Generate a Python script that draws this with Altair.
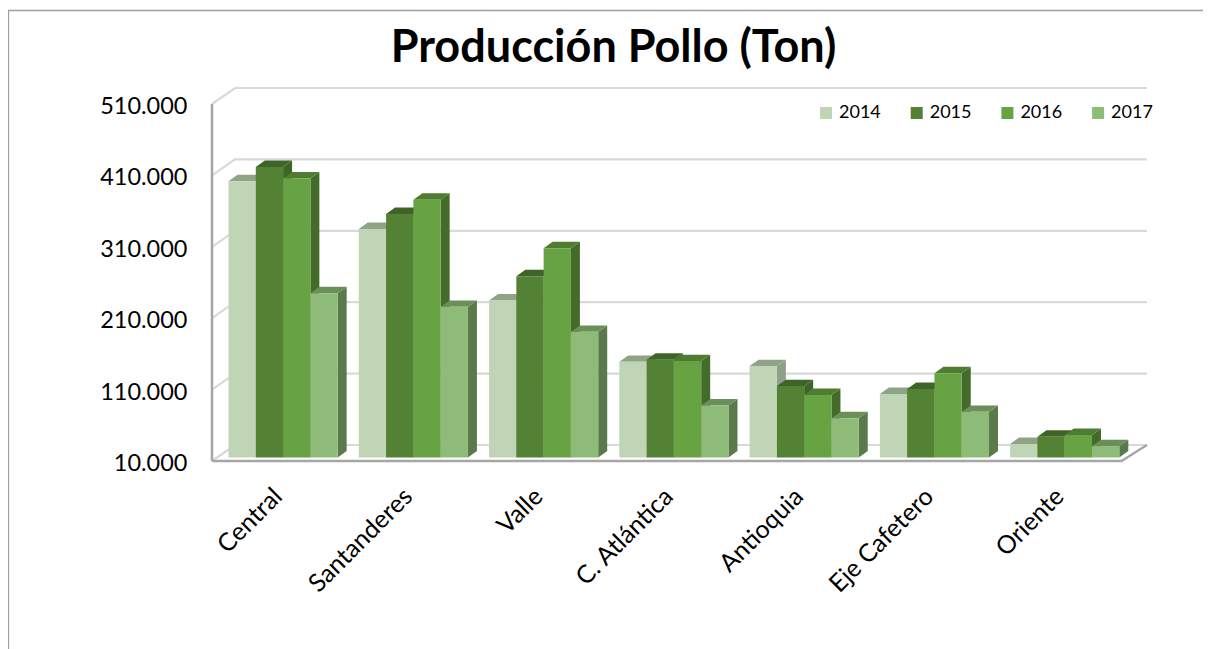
import json
import altair as alt
import pandas as pd

categories = ["Central", "Santanderes", "Valle", "C. Atlántica", "Antioquia", "Eje Cafetero", "Oriente"]
years = ["2014", "2015", "2016", "2017"]
v2014 = [397000, 330000, 230000, 144000, 138000, 99000, 29000]
v2015 = [417000, 351000, 264000, 147000, 110000, 106000, 39000]
v2016 = [401000, 371000, 303000, 145000, 97500, 128000, 41500]
v2017 = [240000, 221000, 186000, 83000, 65000, 74000, 26000]
series = [v2014, v2015, v2016, v2017]
y_ticks = [10000, 110000, 210000, 310000, 410000, 510000]

front_colors = ["#c0d5b5", "#548235", "#68a343", "#8fbb78"]
top_colors = ["#8fa386", "#3f6428", "#4e7d32", "#6b8f58"]
side_colors = ["#909f88", "#3f6428", "#436b29", "#5a7a4b"]

W, H = 1195, 641
X_DOMAIN = [-1.6927, -1.6927 + 1195 / 130.27]
Y_DOMAIN = [-258207, 639552]
BAR_W = 0.2095
DX = 0.069
DY = 9000
BACK_X, FRONT_X, RIGHT_FRONT, RIGHT_BACK = 0.05, -0.1267, 6.855, 7.05
FRONT_DY, BACK_DY = -4900, 17500

fronts, tops, sides = [], [], []
for s, (yr, vals) in enumerate(zip(years, series)):
    for c, v in enumerate(vals):
        x0 = c + s * BAR_W
        x1 = x0 + BAR_W
        fronts.append({"year": yr, "x": x0, "x2": x1, "y": v, "y2": 10000})
        bid = f"{c}-{s}"
        for x, a, b in [(x0, v, v), (x0 + DX, v, v + DY), (x1, v, v + DY), (x1 + DX, v + DY, v + DY)]:
            tops.append({"id": bid, "x": x, "y": a, "y2": b, "c": top_colors[s]})
        for x, a, b in [(x1, 10000, v), (x1 + DX, 10000 + DY, v + DY)]:
            sides.append({"id": bid, "x": x, "y": a, "y2": b, "c": side_colors[s]})

grid = []
for t in y_ticks:
    for x, y in [(FRONT_X, t + FRONT_DY), (BACK_X, t + BACK_DY), (RIGHT_BACK, t + BACK_DY)]:
        grid.append({"t": t, "x": x, "y": y})
floor = [
    {"x": FRONT_X, "y": 10000 + FRONT_DY},
    {"x": RIGHT_FRONT, "y": 10000 + FRONT_DY},
    {"x": RIGHT_BACK, "y": 10000 + BACK_DY},
]
wall = [{"x": FRONT_X, "y": 10000 + FRONT_DY}, {"x": FRONT_X, "y": 510000 + FRONT_DY}]
border_x = X_DOMAIN[0] + 0.5 / 130.27
border_y = Y_DOMAIN[1] - 2.5 / 71.4 * 100000
border = [
    {"x": border_x, "y": Y_DOMAIN[0]},
    {"x": border_x, "y": border_y},
    {"x": X_DOMAIN[1], "y": border_y},
]

xs = alt.Scale(domain=X_DOMAIN, nice=False, zero=False)
ys = alt.Scale(domain=Y_DOMAIN, nice=False, zero=False)
FONT = "Lato"
label_arr = json.dumps(categories, ensure_ascii=False)

x_enc = alt.X(
    "x:Q", scale=xs, title=None,
    axis=alt.Axis(
        values=[c + 2 * BAR_W for c in range(len(categories))],
        labelExpr=f"{label_arr}[round(datum.value - {2 * BAR_W})]",
        domain=False, ticks=False, grid=False, labelAngle=315, labelAlign="right",
        labelBaseline="middle", labelFont=FONT, labelFontSize=25, labelColor="#000000",
        labelPadding=0, offset=-157, labelOffset=-5.5, labelOverlap=False, labelFlush=False,
    ),
)
y_enc = alt.Y(
    "y:Q", scale=ys, title=None,
    axis=alt.Axis(
        values=y_ticks,
        labelExpr="replace(format(datum.value, ','), /,/g, '.')",
        domain=False, ticks=False, grid=False, labelFont=FONT, labelFontSize=23.5,
        labelColor="#000000", labelPadding=0, offset=-179, labelOffset=6,
        labelOverlap=False, labelFlush=False,
    ),
)

px, py = alt.X("x:Q", scale=xs), alt.Y("y:Q", scale=ys)
border_l = alt.Chart(pd.DataFrame(border)).mark_line(color="#a0a0a0", strokeWidth=1.3).encode(x=x_enc, y=y_enc)
grid_l = alt.Chart(pd.DataFrame(grid)).mark_line(color="#d9d9d9", strokeWidth=2.2).encode(x=px, y=py, detail="t:N")
floor_l = alt.Chart(pd.DataFrame(floor)).mark_line(color="#a6a6a6", strokeWidth=2.5).encode(x=px, y=py)
wall_l = alt.Chart(pd.DataFrame(wall)).mark_line(color="#a6a6a6", strokeWidth=2.5).encode(x=px, y=py)
side_l = alt.Chart(pd.DataFrame(sides)).mark_area(opacity=1).encode(
    x=px, y=py, y2="y2:Q", detail="id:N", color=alt.Color("c:N", scale=None))
top_l = alt.Chart(pd.DataFrame(tops)).mark_area(opacity=1).encode(
    x=px, y=py, y2="y2:Q", detail="id:N", color=alt.Color("c:N", scale=None))
front_l = alt.Chart(pd.DataFrame(fronts)).mark_rect().encode(
    x=px, x2="x2:Q", y=py, y2="y2:Q",
    color=alt.Color(
        "year:N", scale=alt.Scale(domain=years, range=front_colors),
        legend=alt.Legend(
            title=None, orient="none", legendX=809, legendY=96, direction="horizontal",
            columns=4, symbolType="square", symbolSize=144, symbolStrokeWidth=0,
            labelFont=FONT, labelFontSize=18, labelColor="#000000", labelOffset=4,
            columnPadding=26.7, padding=0,
        ),
    ))

chart = (
    alt.layer(border_l, grid_l, floor_l, wall_l, side_l, top_l, front_l)
    .resolve_scale(color="independent")
    .properties(
        width=W, height=H, padding=0,
        autosize=alt.AutoSizeParams(type="none"),
        title=alt.TitleParams(
            "Producción Pollo (Ton)", font=FONT, fontSize=45, fontWeight="bold",
            color="#000000", anchor="middle", offset=-63, dx=8,
        ),
    )
    .configure_view(stroke=None)
)
chart.save("out.html", embed_options={"renderer": "svg", "actions": False})
